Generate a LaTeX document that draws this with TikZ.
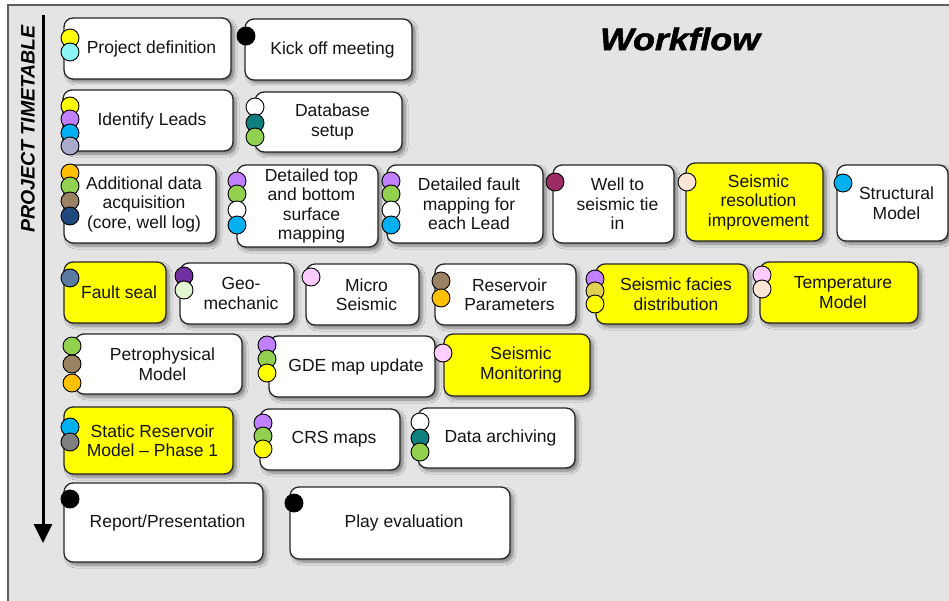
\documentclass[tikz,border=0pt]{standalone}
\usepackage{fontspec}
\setmainfont{Liberation Sans}
\usetikzlibrary{arrows.meta,shadows.blur}

% palette
\definecolor{framegray}{HTML}{E4E4E4}
\definecolor{bordergray}{HTML}{5E5E5E}
\definecolor{cYellow}{HTML}{FFFF00}
\definecolor{cLightCyan}{HTML}{8CF5F5}
\definecolor{cViolet}{HTML}{C080FF}
\definecolor{cSky}{HTML}{00B0F0}
\definecolor{cLavender}{HTML}{AAAACC}
\definecolor{cTeal}{HTML}{0F7F7F}
\definecolor{cGreen}{HTML}{92D050}
\definecolor{cOrange}{HTML}{FFC000}
\definecolor{cBrown}{HTML}{9A8262}
\definecolor{cNavy}{HTML}{1F497D}
\definecolor{cMaroon}{HTML}{9B2D62}
\definecolor{cPeach}{HTML}{FCE4D6}
\definecolor{cSteel}{HTML}{5B7BA0}
\definecolor{cPurple}{HTML}{7030A0}
\definecolor{cPaleGreen}{HTML}{E2F5D0}
\definecolor{cPink}{HTML}{FFCCFF}
\definecolor{cKhaki}{HTML}{E3D24F}
\definecolor{cGray}{HTML}{7F7F7F}

\tikzset{
  taskbox/.style={draw=black!85, line width=1.3pt, rounded corners=9pt, inner sep=0pt,
    blur shadow={shadow xshift=3pt, shadow yshift=-3pt, shadow blur radius=3pt,
      shadow blur steps=6, shadow opacity=45}},
  tasktext/.style={align=center, text=black!92, inner sep=0pt,
    font=\fontsize{17.5}{19.5}\selectfont},
  wfdot/.style={circle, draw=black, line width=0.9pt, minimum size=18pt, inner sep=0pt},
}

% task box: name, x1, y1, x2, y2, fill, text
\newcommand\wfTask[7]{%
  \pgfmathsetmacro\wfX{(#2+#4)/2}\pgfmathsetmacro\wfY{(#3+#5)/2}%
  \pgfmathsetmacro\wfW{#4-#2}\pgfmathsetmacro\wfH{#5-#3}%
  \node[taskbox, fill=#6, minimum width=\wfW pt, minimum height=\wfH pt] (#1) at (\wfX,\wfY) {};
  \node[tasktext] (#1-t) at ([xshift=4pt]#1.center) {#7};
}
% status dot: name, x, y, colour
\newcommand\wfDot[4]{\node[wfdot, fill=#4] (#1) at (#2,#3) {};}

\begin{document}
\begin{tikzpicture}[x=1pt, y=-1pt]
\useasboundingbox (0,0) rectangle (949,601);

% panel
\fill[white] (0,0) rectangle (949,601);
\fill[framegray] (8,5) rectangle (949,601);
\draw[bordergray, line width=2pt] (8,601) -- (8,5) -- (949,5);

% title and time axis
\node[font=\fontsize{31}{31}\selectfont\bfseries\itshape\addfontfeature{FakeBold=1.6}, inner sep=0pt] (title) at (680,39) {\scalebox{1.15}[1]{Workflow}};
\node[rotate=90, font=\fontsize{19.5}{19.5}\selectfont\bfseries\itshape, inner sep=0pt] (axislabel) at (28,129) {PROJECT TIMETABLE};
\coordinate (axtop) at (43,15);
\coordinate (axbot) at (43,543);
\draw[line width=3pt, -{Triangle[width=18pt,length=19pt]}] (axtop) -- (axbot);

% row 1
\wfTask{pd}{64}{18}{231}{79}{white}{Project definition}
\wfTask{ko}{245}{19}{412}{80}{white}{Kick off meeting}
% row 2
\wfTask{il}{63}{90}{233}{151}{white}{Identify Leads}
\wfTask{db}{255}{92}{402}{152}{white}{Database\\setup}
% row 3
\wfTask{ad}{64}{165}{216}{243}{white}{Additional data\\acquisition\\(core, well log)}
\wfTask{tb}{237}{165}{378}{247}{white}{Detailed top\\and bottom\\surface\\mapping}
\wfTask{fm}{387}{165}{543}{243}{white}{Detailed fault\\mapping for\\each Lead}
\wfTask{ws}{553}{165}{674}{243}{white}{Well to\\seismic tie\\in}
\wfTask{sr}{686}{163}{823}{241}{cYellow}{Seismic\\resolution\\improvement}
\wfTask{sm}{837}{165}{948}{241}{white}{Structural\\Model}
% row 4
\wfTask{fs}{64}{262}{166}{323}{cYellow}{Fault seal}
\wfTask{gm}{180}{263}{294}{324}{white}{Geo-\\mechanic}
\wfTask{ms}{306}{264}{419}{325}{white}{Micro\\Seismic}
\wfTask{rp}{435}{264}{576}{325}{white}{Reservoir\\Parameters}
\wfTask{sf}{596}{264}{748}{324}{cYellow}{Seismic facies\\distribution}
\wfTask{tm}{760}{262}{918}{323}{cYellow}{Temperature\\Model}
% row 5
\wfTask{pm}{75}{334}{242}{394}{white}{Petrophysical\\Model}
\wfTask{gde}{269}{336}{435}{397}{white}{GDE map update}
\wfTask{smo}{444}{334}{590}{396}{cYellow}{Seismic\\Monitoring}
% row 6
\wfTask{st}{64}{407}{233}{474}{cYellow}{Static Reservoir\\Model – Phase 1}
\wfTask{crs}{260}{409}{400}{470}{white}{CRS maps}
\wfTask{da}{418}{408}{575}{468}{white}{Data archiving}
% row 7
\wfTask{rep}{64}{483}{263}{562}{white}{Report/Presentation}
\wfTask{pe}{290}{487}{510}{559}{white}{Play evaluation}

% status dots
\wfDot{pd1}{70}{38}{cYellow}
\wfDot{pd2}{70}{52}{cLightCyan}
\wfDot{ko1}{246}{36}{black}

\wfDot{il1}{70}{106}{cYellow}
\wfDot{il2}{70}{119}{cViolet}
\wfDot{il3}{70}{133}{cSky}
\wfDot{il4}{70}{146}{cLavender}
\wfDot{db1}{255}{107}{white}
\wfDot{db2}{255}{123}{cTeal}
\wfDot{db3}{255}{137}{cGreen}

\wfDot{ad1}{70}{173}{cOrange}
\wfDot{ad2}{70}{186}{cGreen}
\wfDot{ad3}{70}{201}{cBrown}
\wfDot{ad4}{70}{216}{cNavy}
\wfDot{tb1}{237}{181}{cViolet}
\wfDot{tb2}{237}{194}{cGreen}
\wfDot{tb3}{237}{210}{white}
\wfDot{tb4}{237}{225}{cSky}
\wfDot{fm1}{391}{181}{cViolet}
\wfDot{fm2}{391}{194}{cGreen}
\wfDot{fm3}{391}{210}{white}
\wfDot{fm4}{391}{225}{cSky}
\wfDot{ws1}{555}{182}{cMaroon}
\wfDot{sr1}{687}{182}{cPeach}
\wfDot{sm1}{843}{183}{cSky}

\wfDot{fs1}{70}{278}{cSteel}
\wfDot{gm1}{184}{276}{cPurple}
\wfDot{gm2}{184}{290}{cPaleGreen}
\wfDot{ms1}{311}{277}{cPink}
\wfDot{rp1}{441}{281}{cBrown}
\wfDot{rp2}{441}{298}{cOrange}
\wfDot{sf1}{595}{279}{cViolet}
\wfDot{sf2}{595}{291}{cKhaki}
\wfDot{sf3}{595}{304}{cYellow}
\wfDot{tm1}{762}{275}{cPink}
\wfDot{tm2}{762}{289}{cPeach}

\wfDot{pm1}{72}{346}{cGreen}
\wfDot{pm2}{72}{364}{cBrown}
\wfDot{pm3}{72}{383}{cOrange}
\wfDot{gde1}{267}{345}{cViolet}
\wfDot{gde2}{267}{359}{cGreen}
\wfDot{gde3}{267}{373}{cYellow}
\wfDot{smo1}{443}{353}{cPink}

\wfDot{st1}{70}{427}{cSky}
\wfDot{st2}{70}{442}{cGray}
\wfDot{crs1}{263}{423}{cViolet}
\wfDot{crs2}{263}{436}{cGreen}
\wfDot{crs3}{263}{449}{cYellow}
\wfDot{da1}{420}{422}{white}
\wfDot{da2}{420}{438}{cTeal}
\wfDot{da3}{420}{452}{cGreen}

\wfDot{rep1}{70}{499}{black}
\wfDot{pe1}{294}{503}{black}
\end{tikzpicture}
\end{document}
